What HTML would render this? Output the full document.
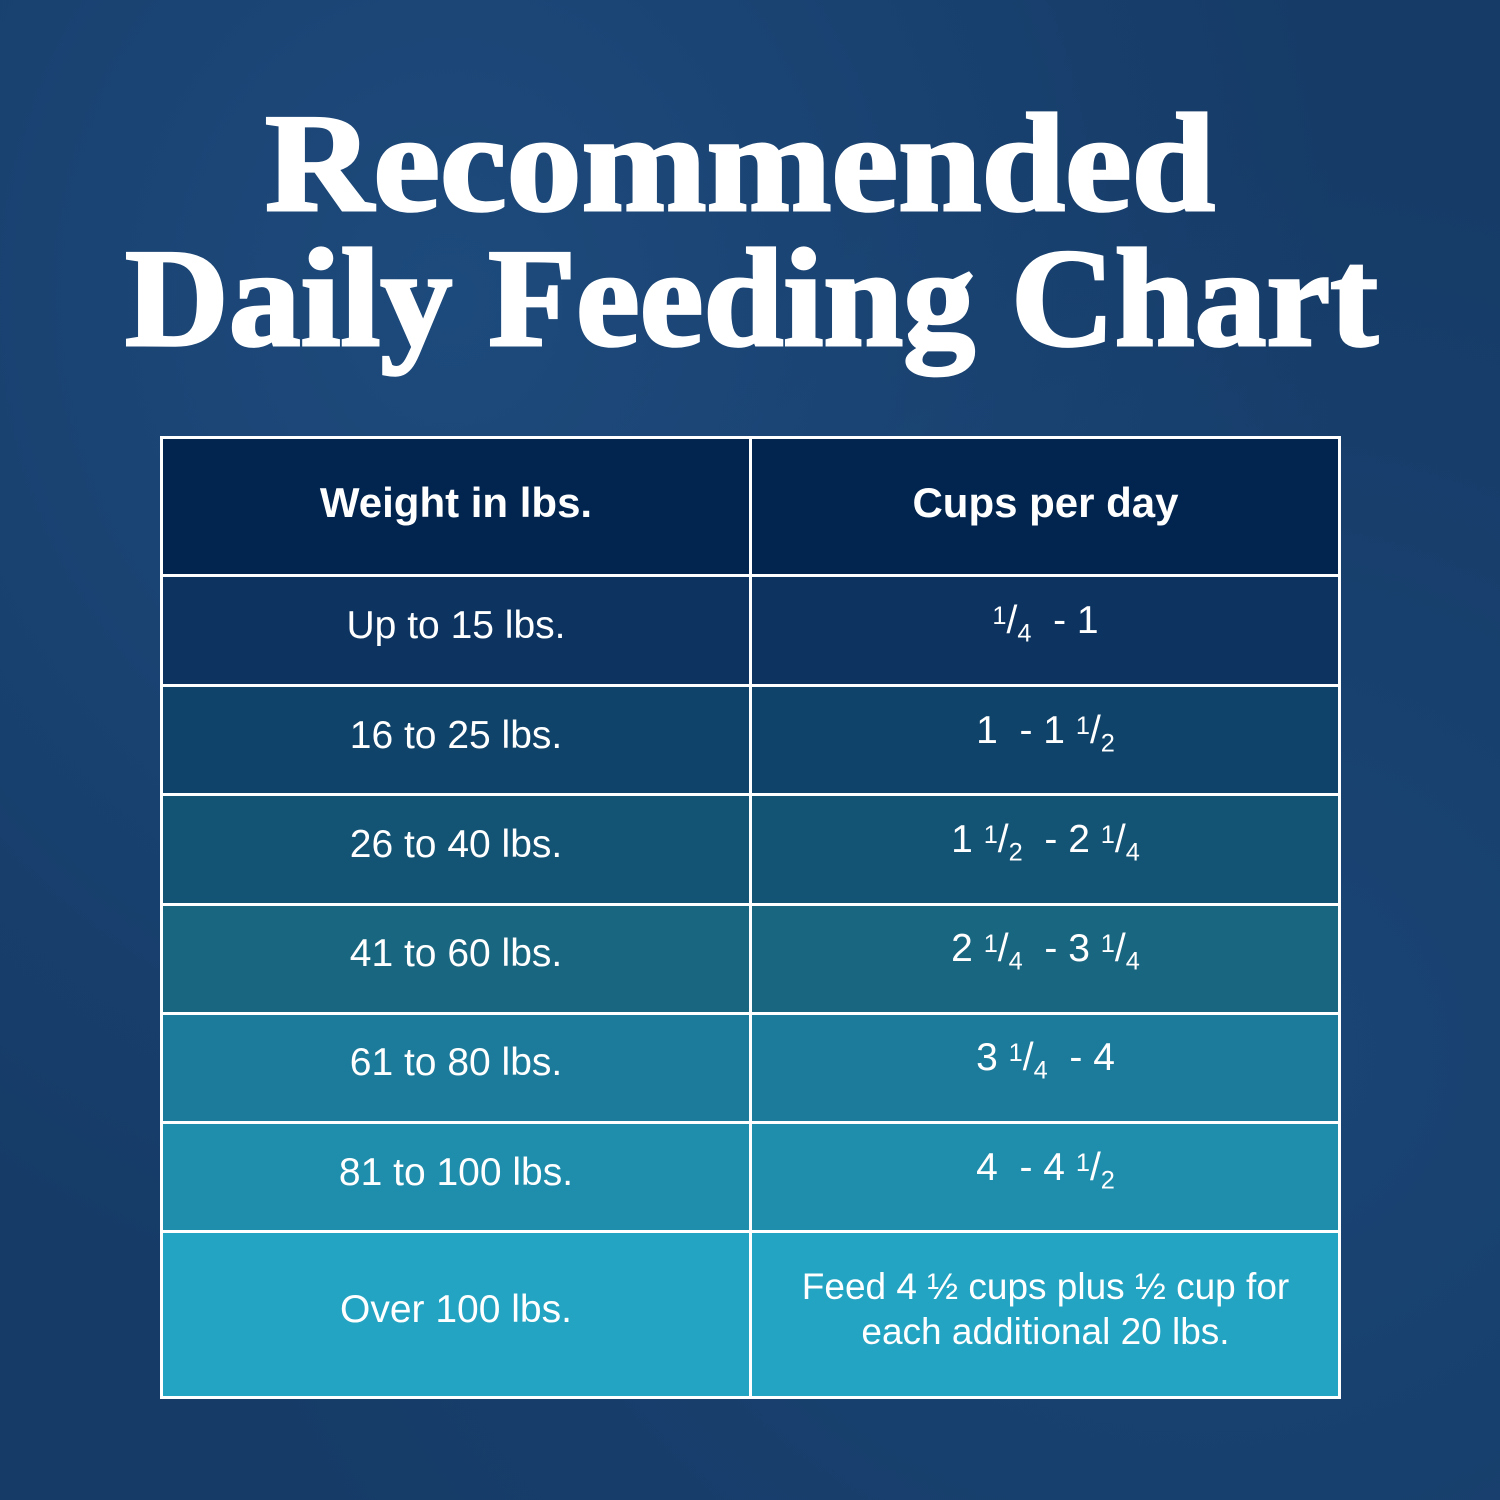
<!DOCTYPE html>
<html><head><style>
body{margin:0;width:1500px;height:1500px;background:#173d6b;overflow:hidden;font-family:"Liberation Sans",sans-serif;}
.bg{position:absolute;inset:0;background:radial-gradient(ellipse at 30% 20%,#1d4a7c,transparent 60%),radial-gradient(ellipse at 80% 70%,#1a4575,transparent 60%),#163b67;}
svg.t{position:absolute;left:0;top:0}
.cell{position:absolute;display:flex;align-items:center;justify-content:center;color:#fff;font-size:39px;text-align:center;line-height:45px;box-sizing:border-box;padding-bottom:10px}
.ln{position:absolute;background:#fff}
sup{font-size:0.65em;vertical-align:0.35em}
sub{font-size:.65em}
</style></head><body>
<div class="bg"></div>
<svg class="t" width="1500" height="430">
<text x="265" y="210" textLength="950" lengthAdjust="spacingAndGlyphs" font-family="Liberation Serif" font-weight="bold" font-size="140" fill="#fff" stroke="#fff" stroke-width="3">Recommended</text>
<text x="125" y="345" textLength="1253" lengthAdjust="spacingAndGlyphs" font-family="Liberation Serif" font-weight="bold" font-size="140" fill="#fff" stroke="#fff" stroke-width="3">Daily Feeding Chart</text>
</svg>
<div class="cell" style="left:161px;top:437px;width:590px;height:139px;background:#022550;font-weight:bold;font-size:42px;padding-bottom:8px">Weight in lbs.</div>
<div class="cell" style="left:751px;top:437px;width:589px;height:139px;background:#022550;font-weight:bold;font-size:42px;padding-bottom:8px">Cups per day</div>
<div class="cell" style="left:161px;top:576px;width:590px;height:109px;background:#0d3460">Up to 15 lbs.</div>
<div class="cell" style="left:751px;top:576px;width:589px;height:109px;background:#0d3460"><span><sup>1</sup>/<sub>4</sub>&nbsp; - 1</span></div>
<div class="cell" style="left:161px;top:685px;width:590px;height:110px;background:#0f4369">16 to 25 lbs.</div>
<div class="cell" style="left:751px;top:685px;width:589px;height:110px;background:#0f4369"><span>1 &nbsp;- 1 <sup>1</sup>/<sub>2</sub></span></div>
<div class="cell" style="left:161px;top:795px;width:590px;height:109px;background:#135374">26 to 40 lbs.</div>
<div class="cell" style="left:751px;top:795px;width:589px;height:109px;background:#135374"><span>1 <sup>1</sup>/<sub>2</sub>&nbsp; - 2 <sup>1</sup>/<sub>4</sub></span></div>
<div class="cell" style="left:161px;top:904px;width:590px;height:109px;background:#196680">41 to 60 lbs.</div>
<div class="cell" style="left:751px;top:904px;width:589px;height:109px;background:#196680"><span>2 <sup>1</sup>/<sub>4</sub>&nbsp; - 3 <sup>1</sup>/<sub>4</sub></span></div>
<div class="cell" style="left:161px;top:1013px;width:590px;height:109px;background:#1c7a9a">61 to 80 lbs.</div>
<div class="cell" style="left:751px;top:1013px;width:589px;height:109px;background:#1c7a9a"><span>3 <sup>1</sup>/<sub>4</sub>&nbsp; - 4</span></div>
<div class="cell" style="left:161px;top:1122px;width:590px;height:110px;background:#1f8dac">81 to 100 lbs.</div>
<div class="cell" style="left:751px;top:1122px;width:589px;height:110px;background:#1f8dac"><span>4 &nbsp;- 4 <sup>1</sup>/<sub>2</sub></span></div>
<div class="cell" style="left:161px;top:1232px;width:590px;height:166px;background:#23a4c3;padding-bottom:12px">Over 100 lbs.</div>
<div class="cell" style="left:751px;top:1232px;width:589px;height:166px;background:#23a4c3;font-size:37px;padding-bottom:12px">Feed 4 ½ cups plus ½ cup for<br>each additional 20 lbs.</div>
<div class="ln" style="left:160px;top:436px;width:1181px;height:3px"></div>
<div class="ln" style="left:160px;top:574px;width:1181px;height:3px"></div>
<div class="ln" style="left:160px;top:684px;width:1181px;height:3px"></div>
<div class="ln" style="left:160px;top:793px;width:1181px;height:3px"></div>
<div class="ln" style="left:160px;top:903px;width:1181px;height:3px"></div>
<div class="ln" style="left:160px;top:1012px;width:1181px;height:3px"></div>
<div class="ln" style="left:160px;top:1121px;width:1181px;height:3px"></div>
<div class="ln" style="left:160px;top:1230px;width:1181px;height:3px"></div>
<div class="ln" style="left:160px;top:1396px;width:1181px;height:3px"></div>
<div class="ln" style="left:160px;top:436px;width:3px;height:963px"></div>
<div class="ln" style="left:749px;top:436px;width:3px;height:963px"></div>
<div class="ln" style="left:1338px;top:436px;width:3px;height:963px"></div>
</body></html>
